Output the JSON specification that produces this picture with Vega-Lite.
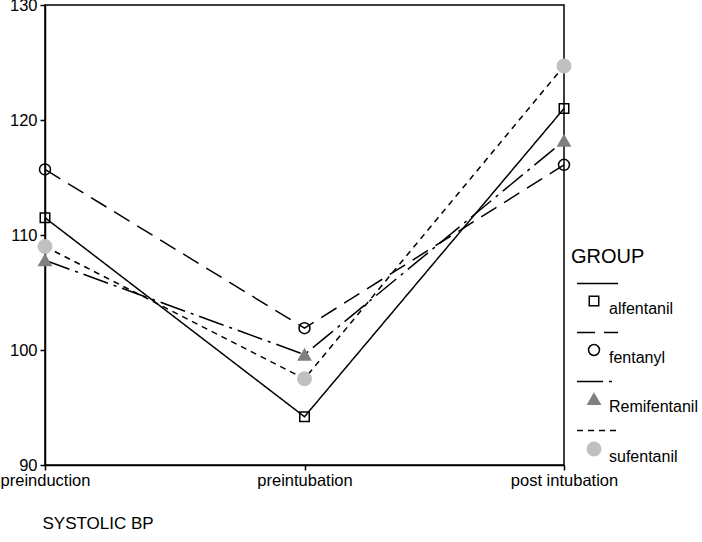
{
  "$schema": "https://vega.github.io/schema/vega-lite/v6.json",
  "width": 519,
  "height": 460,
  "autosize": {"type": "none"},
  "padding": {"left": 45, "top": 5, "right": 138, "bottom": 77},
  "background": "white",
  "config": {
    "font": "Liberation Sans",
    "view": {"stroke": "black", "strokeWidth": 1.5},
    "axis": {
      "domainColor": "black", "domainWidth": 1.5,
      "tickColor": "black", "tickWidth": 1.5, "tickSize": 5,
      "labelColor": "black", "labelFont": "Liberation Sans", "labelFontSize": 16.5,
      "grid": false
    },
    "legend": {"labelFont": "Liberation Sans", "titleFont": "Liberation Sans"}
  },
  "data": {
    "values": [
      {"time": "preinduction", "group": "alfentanil", "value": 111.5},
      {"time": "preintubation", "group": "alfentanil", "value": 94.2},
      {"time": "post intubation", "group": "alfentanil", "value": 121.0},
      {"time": "preinduction", "group": "fentanyl", "value": 115.7},
      {"time": "preintubation", "group": "fentanyl", "value": 101.9},
      {"time": "post intubation", "group": "fentanyl", "value": 116.1},
      {"time": "preinduction", "group": "Remifentanil", "value": 107.8},
      {"time": "preintubation", "group": "Remifentanil", "value": 99.6},
      {"time": "post intubation", "group": "Remifentanil", "value": 118.2},
      {"time": "preinduction", "group": "sufentanil", "value": 109.0},
      {"time": "preintubation", "group": "sufentanil", "value": 97.5},
      {"time": "post intubation", "group": "sufentanil", "value": 124.7}
    ]
  },
  "layer": [
    {
      "mark": {"type": "line", "color": "black", "strokeWidth": 1.5},
      "encoding": {
        "x": {
          "field": "time", "type": "nominal",
          "scale": {"type": "point", "padding": 0, "domain": ["preinduction", "preintubation", "post intubation"]},
          "axis": {
            "labelAngle": 0, "labelPadding": 2,
            "title": "SYSTOLIC BP", "titleFontSize": 17, "titleFontWeight": "normal", "titleColor": "black",
            "titleAnchor": "start", "titleAlign": "left", "titleX": -3, "titleY": 63, "titleBaseline": "alphabetic"
          }
        },
        "y": {
          "field": "value", "type": "quantitative",
          "scale": {"domain": [90, 130], "zero": false, "nice": false},
          "axis": {"values": [90, 100, 110, 120, 130], "title": null, "labelPadding": 3}
        },
        "strokeDash": {
          "field": "group", "type": "nominal", "sort": null,
          "scale": {"range": [[1, 0], [18, 9], [26, 6, 3, 6], [6, 5]]},
          "legend": {
            "orient": "none", "legendX": 526, "legendY": 242,
            "title": "GROUP", "titleFontSize": 20, "titleFontWeight": "normal", "titleColor": "black",
            "titlePadding": -5,
            "symbolType": "stroke", "symbolSize": 1681, "symbolStrokeWidth": 1.5, "symbolStrokeColor": "black",
            "symbolOffset": 5,
            "labelExpr": "''", "rowPadding": 22
          }
        }
      }
    },
    {
      "mark": {"type": "point", "strokeWidth": 1.5, "opacity": 1},
      "encoding": {
        "x": {"field": "time", "type": "nominal"},
        "y": {"field": "value", "type": "quantitative"},
        "shape": {
          "field": "group", "type": "nominal",
          "scale": {"domain": ["alfentanil", "fentanyl", "Remifentanil", "sufentanil"], "range": ["square", "circle", "triangle-up", "circle"]},
          "legend": {
            "orient": "none", "legendX": 541, "legendY": 288,
            "title": null,
            "symbolStrokeWidth": 1.5,
            "labelFontSize": 16, "labelColor": "black", "labelBaseline": "top",
            "labelOffset": 7, "rowPadding": 24
          }
        },
        "fill": {
          "field": "group", "type": "nominal",
          "scale": {"domain": ["alfentanil", "fentanyl", "Remifentanil", "sufentanil"], "range": ["transparent", "transparent", "#808080", "#c0c0c0"]}
        },
        "stroke": {
          "field": "group", "type": "nominal",
          "scale": {"domain": ["alfentanil", "fentanyl", "Remifentanil", "sufentanil"], "range": ["black", "black", "#808080", "#c0c0c0"]}
        },
        "size": {
          "field": "group", "type": "nominal",
          "scale": {"domain": ["alfentanil", "fentanyl", "Remifentanil", "sufentanil"], "range": [90, 180, 90, 170]}
        }
      }
    }
  ]
}
